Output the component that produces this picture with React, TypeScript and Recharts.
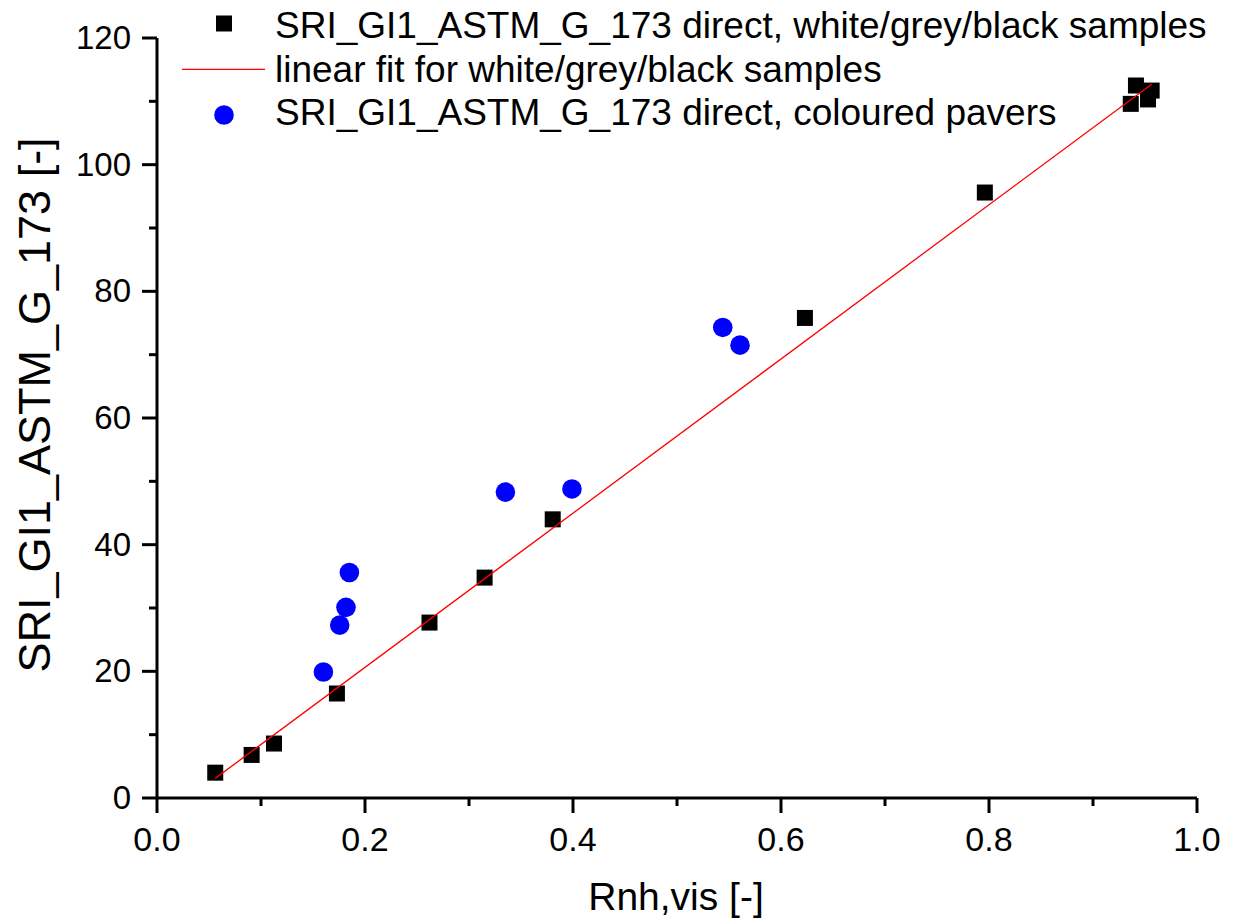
import React from 'react';
import { ScatterChart, Scatter, XAxis, YAxis, Legend } from 'recharts';

// white/grey/black samples (Rnh,vis, SRI)
const greyRnh = [0.056, 0.091, 0.1125, 0.173, 0.262, 0.315, 0.3805, 0.623, 0.796, 0.9363, 0.9413, 0.9529, 0.9564];
const greySri = [4.0, 6.8, 8.6, 16.5, 27.7, 34.8, 44.0, 75.8, 95.6, 109.6, 112.5, 110.3, 111.7];

// coloured pavers
const colRnh = [0.160, 0.1757, 0.1817, 0.185, 0.335, 0.399, 0.544, 0.5606];
const colSri = [19.9, 27.3, 30.1, 35.6, 48.3, 48.8, 74.3, 71.5];

// linear fit end points
const fitRnh = [0.056, 0.9564];
const fitSri = [3.1, 112.7];

const xTicks = [0, 0.1, 0.2, 0.3, 0.4, 0.5, 0.6, 0.7, 0.8, 0.9, 1.0];
const yTicks = [0, 10, 20, 30, 40, 50, 60, 70, 80, 90, 100, 110, 120];

const greyData = greyRnh.map((x, i) => ({ x, y: greySri[i] }));
const colData = colRnh.map((x, i) => ({ x, y: colSri[i] }));
const fitData = fitRnh.map((x, i) => ({ x, y: fitSri[i] }));

const FONT = '"Liberation Sans", Arial, sans-serif';

const XTick = (props: any) => {
  const { x, y, payload } = props;
  const v = payload.value as number;
  const major = Math.round(v * 10) % 2 === 0;
  return (
    <g>
      <line x1={x} y1={y} x2={x} y2={y + (major ? 15 : 8)} stroke="#000" strokeWidth={3} />
      {major && (
        <text x={x} y={y + 53} textAnchor="middle" fontFamily={FONT} fontSize={34} fill="#000">
          {v.toFixed(1)}
        </text>
      )}
    </g>
  );
};

const YTick = (props: any) => {
  const { x, y, payload } = props;
  const v = payload.value as number;
  const major = v % 20 === 0;
  return (
    <g>
      <line x1={x} y1={y} x2={x - (major ? 15 : 8)} y2={y} stroke="#000" strokeWidth={3} />
      {major && (
        <text x={x - 26} y={y + 11} textAnchor="end" fontFamily={FONT} fontSize={33} fill="#000">
          {v}
        </text>
      )}
    </g>
  );
};

const square = (p: any) => <rect x={p.cx - 8} y={p.cy - 8} width={16} height={16} fill="#000" />;
const dot = (p: any) => <circle cx={p.cx} cy={p.cy} r={9.8} fill="#0000ff" />;

const LegendBox = () => (
  <svg width={1233} height={140} style={{ display: 'block' }}>
    <rect x={216} y={15.5} width={16} height={16} fill="#000" />
    <text x={275} y={38} fontFamily={FONT} fontSize={37} fill="#000">
      SRI_GI1_ASTM_G_173 direct, white/grey/black samples
    </text>
    <line x1={182} y1={69.3} x2={265} y2={69.3} stroke="#ff0000" strokeWidth={1.3} />
    <text x={275} y={81.5} fontFamily={FONT} fontSize={37} fill="#000">
      linear fit for white/grey/black samples
    </text>
    <circle cx={224} cy={115} r={9.8} fill="#0000ff" />
    <text x={275} y={125} fontFamily={FONT} fontSize={37} fill="#000">
      SRI_GI1_ASTM_G_173 direct, coloured pavers
    </text>
  </svg>
);

export default function App() {
  return (
    <div style={{ position: 'absolute', left: 0, top: 0, background: '#fff' }}>
      <ScatterChart width={1233} height={924} margin={{ top: 38, right: 36, left: 0, bottom: 0 }}>
        <XAxis
          type="number"
          dataKey="x"
          domain={[0, 1]}
          ticks={xTicks}
          interval={0}
          height={126}
          tickSize={0}
          tickMargin={0}
          tickLine={false}
          tick={XTick}
          axisLine={{ stroke: '#000', strokeWidth: 3 }}
          label={{
            content: () => (
              <text x={676} y={910} textAnchor="middle" fontFamily={FONT} fontSize={39} fill="#000">
                Rnh,vis [-]
              </text>
            ),
          }}
        />
        <YAxis
          type="number"
          dataKey="y"
          domain={[0, 120]}
          ticks={yTicks}
          interval={0}
          width={157}
          tickSize={0}
          tickMargin={0}
          tickLine={false}
          tick={YTick}
          axisLine={{ stroke: '#000', strokeWidth: 3 }}
          label={{
            content: () => (
              <text
                transform="translate(50,405) rotate(-90)"
                textAnchor="middle"
                fontFamily={FONT}
                fontSize={45}
                fill="#000"
              >
                SRI_GI1_ASTM_G_173 [-]
              </text>
            ),
          }}
        />
        <Legend
          layout="horizontal"
          verticalAlign="middle"
          align="center"
          wrapperStyle={{ top: 0, left: 0, width: 1233, height: 140 }}
          content={() => <LegendBox />}
        />
        <Scatter name="grey" data={greyData} shape={square} isAnimationActive={false} />
        <Scatter
          name="fit"
          data={fitData}
          line={{ stroke: '#ff0000', strokeWidth: 1.3 }}
          shape={() => <g />}
          isAnimationActive={false}
        />
        <Scatter name="coloured" data={colData} shape={dot} isAnimationActive={false} />
      </ScatterChart>
    </div>
  );
}
